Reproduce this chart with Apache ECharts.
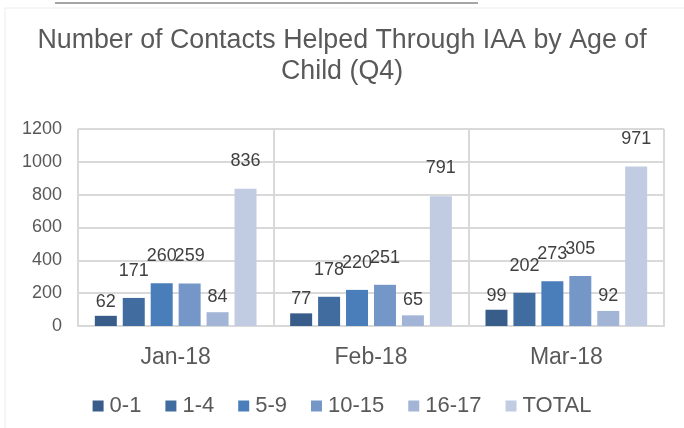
<!DOCTYPE html>
<html>
<head>
<meta charset="utf-8">
<script src="https://cdn.jsdelivr.net/npm/echarts@6/dist/echarts.min.js"></script>
<style>
  html, body { margin: 0; padding: 0; background: #fff; }
  #main { width: 684px; height: 428px; }
</style>
</head>
<body>
<div id="main"></div>
<script>
  // data
  var months = ['Jan-18', 'Feb-18', 'Mar-18'];
  var ageGroups = ['0-1', '1-4', '5-9', '10-15', '16-17', 'TOTAL'];
  var age0to1 = [62, 77, 99];
  var age1to4 = [171, 178, 202];
  var age5to9 = [260, 220, 273];
  var age10to15 = [259, 251, 305];
  var age16to17 = [84, 65, 92];
  var total = [836, 791, 971];
  var yTicks = [0, 200, 400, 600, 800, 1000, 1200];

  var values = [age0to1, age1to4, age5to9, age10to15, age16to17, total];
  var colors = ['#385d8a', '#416c9f', '#4a7ebb', '#7597c7', '#a3b5d7', '#c1cce2'];
  // small series have their labels sitting closer to the bar
  var labelGap = [5, 18, 18, 18, 6, 19];

  var myChart = echarts.init(document.getElementById('main'));

  var series = ageGroups.map(function(name, i) {
    return {
      name: name,
      type: 'bar',
      data: values[i],
      barWidth: 22,
      barGap: '27%',
      itemStyle: { color: colors[i] },
      label: {
        show: true,
        position: 'top',
        distance: labelGap[i],
        color: '#404040',
        fontSize: 18,
        fontFamily: 'Liberation Sans'
      }
    };
  });

  var option = {
    animation: false,
    backgroundColor: '#fff',
    title: {
      text: 'Number of Contacts Helped Through IAA by Age of\nChild (Q4)',
      left: 'center',
      top: 20,
      textStyle: {
        color: '#595959',
        fontSize: 26.8,
        fontWeight: 'normal',
        fontFamily: 'Liberation Sans',
        lineHeight: 31
      }
    },
    legend: {
      bottom: 6,
      left: 'center',
      itemWidth: 11,
      itemHeight: 11,
      itemGap: 24,
      icon: 'rect',
      textStyle: { color: '#595959', fontSize: 22, fontFamily: 'Liberation Sans', padding: [0, 0, 0, 1] },
      data: ageGroups
    },
    grid: { left: 78, right: 20, top: 129, bottom: 102 },
    xAxis: {
      type: 'category',
      data: months,
      axisLine: { lineStyle: { color: '#d9d9d9', width: 2 } },
      axisTick: { show: false },
      splitLine: { show: true, lineStyle: { color: '#d9d9d9', width: 2 } },
      axisLabel: { color: '#595959', fontSize: 23, fontFamily: 'Liberation Sans', margin: 20 }
    },
    yAxis: {
      type: 'value',
      min: yTicks[0],
      max: yTicks[yTicks.length - 1],
      interval: 200,
      axisLine: { show: false },
      axisTick: { show: false },
      splitLine: { lineStyle: { color: '#d9d9d9', width: 2 } },
      axisLabel: {
        color: '#595959',
        fontSize: 18,
        fontFamily: 'Liberation Sans',
        margin: 16,
        formatter: function(v) { return String(v); }
      }
    },
    graphic: [
      { type: 'line', shape: { x1: 55, y1: 3, x2: 478, y2: 3 }, style: { stroke: '#a6a6a6', lineWidth: 2 } },
      { type: 'polyline', shape: { points: [[5, 428], [5, 8], [684, 8]] }, style: { stroke: '#ececec', lineWidth: 1, fill: null } }
    ],
    series: series
  };

  myChart.setOption(option);
</script>
</body>
</html>
